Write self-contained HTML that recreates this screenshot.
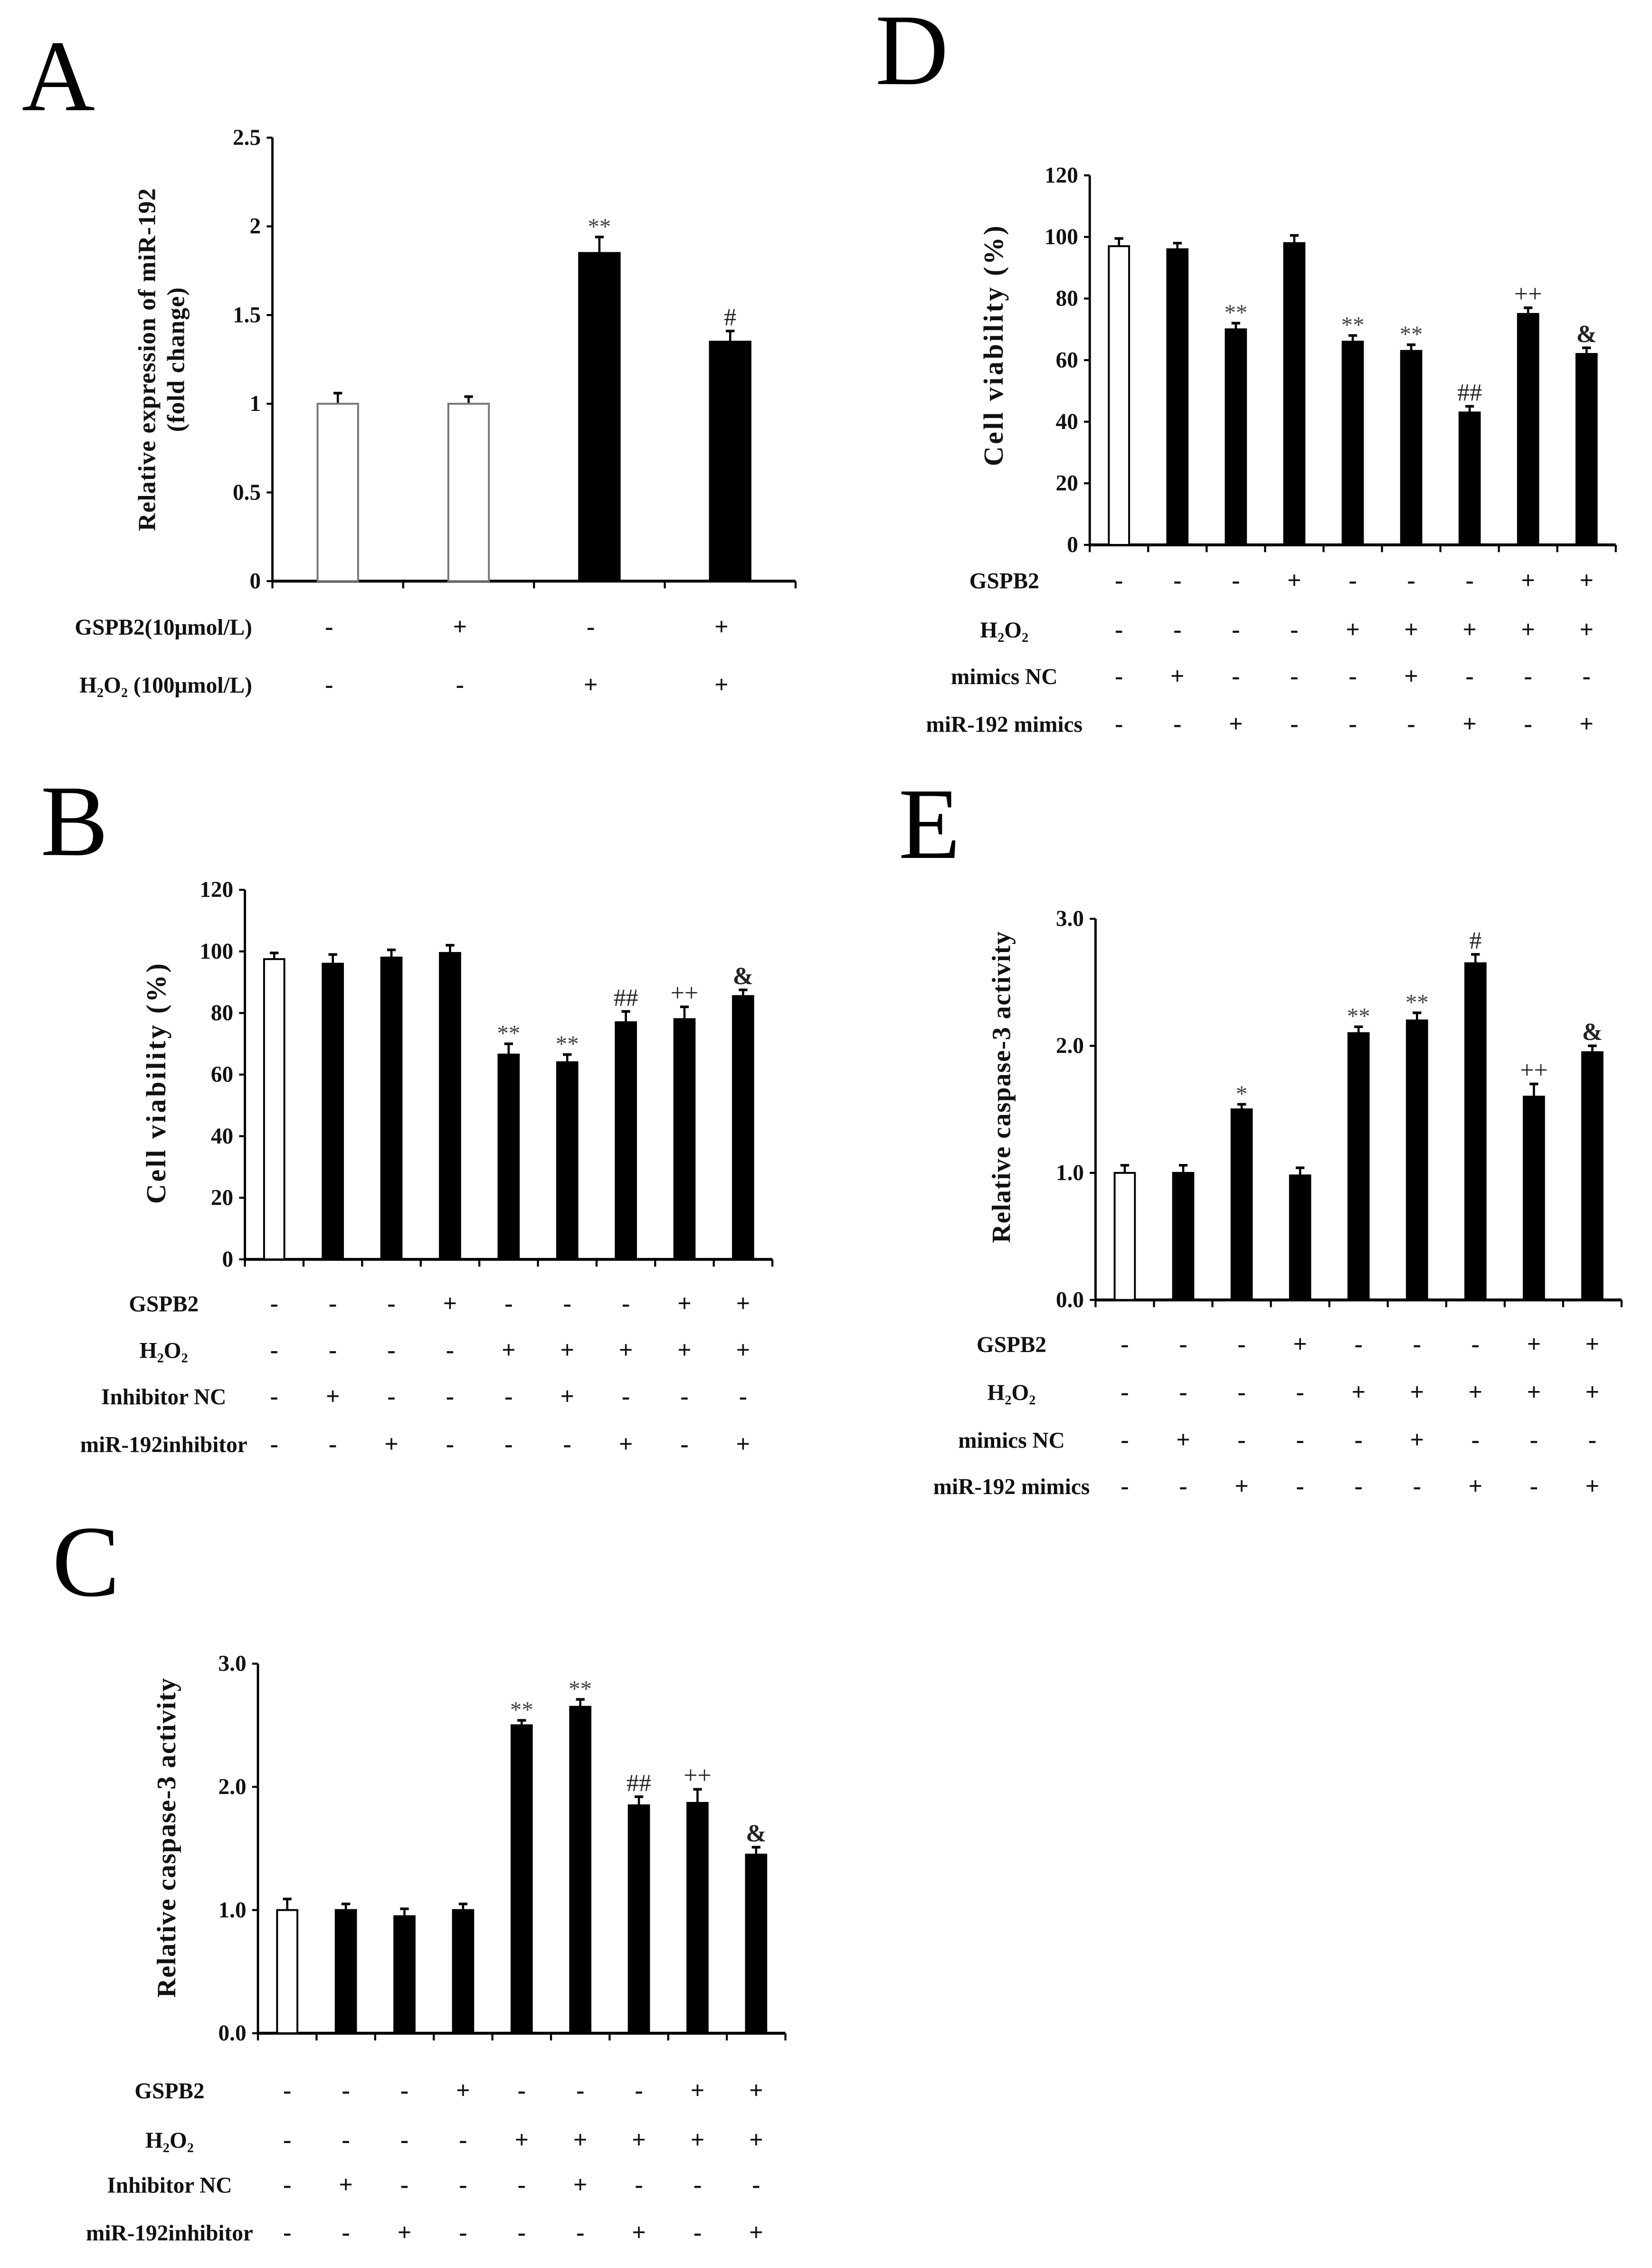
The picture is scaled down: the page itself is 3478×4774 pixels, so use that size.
<!DOCTYPE html>
<html><head><meta charset="utf-8">
<style>
html,body{margin:0;padding:0;background:#fff;}
svg{display:block;}
text{font-family:"Liberation Serif",serif;}
</style></head>
<body>
<svg id="fig" width="3478" height="4774" viewBox="0 0 1140 1565" preserveAspectRatio="none" xmlns="http://www.w3.org/2000/svg">
<rect x="0" y="0" width="1140" height="1565" fill="#fff"/>
</svg>
<script>
// ---- Panel A data ----
const aCategories = ["ctrl","GSPB2","H2O2","GSPB2+H2O2"];
const aValues = [1.0, 1.0, 1.85, 1.35];
const aErrors = [0.06, 0.04, 0.09, 0.06];
const aMarks = ["", "", "**", "#"];
const aTicks = ["0","0.5","1","1.5","2","2.5"];
const aTickVals = [0,0.5,1,1.5,2,2.5];
const aRowLabels = ["GSPB2(10μmol/L)","H₂O₂ (100μmol/L)"];
const aRows = [["-","+","-","+"],["-","-","+","+"]];

// ---- Panel B data ----
const bValues = [97.5, 96, 98, 99.5, 66.5, 64, 77, 78, 85.5];
const bErrors = [2, 3, 2.5, 2.5, 3.5, 2.5, 3.5, 4, 2];
const bMarks = ["","","","","**","**","##","++","&"];
const bTicks = ["0","20","40","60","80","100","120"];
const bTickVals = [0,20,40,60,80,100,120];
const bRowLabels = ["GSPB2","H₂O₂","Inhibitor NC","miR-192inhibitor"];
const bRows = [["-","-","-","+","-","-","-","+","+"],["-","-","-","-","+","+","+","+","+"],["-","+","-","-","-","+","-","-","-"],["-","-","+","-","-","-","+","-","+"]];

// ---- Panel C data ----
const cValues = [1.0, 1.0, 0.95, 1.0, 2.5, 2.65, 1.85, 1.87, 1.45];
const cErrors = [0.09, 0.05, 0.06, 0.05, 0.04, 0.06, 0.07, 0.11, 0.06];
const cMarks = ["","","","","**","**","##","++","&"];
const cTicks = ["0.0","1.0","2.0","3.0"];
const cTickVals = [0,1,2,3];
const cRowLabels = ["GSPB2","H₂O₂","Inhibitor NC","miR-192inhibitor"];
const cRows = bRows;

// ---- Panel D data ----
const dValues = [97, 96, 70, 98, 66, 63, 43, 75, 62];
const dErrors = [2.5, 2, 2, 2.5, 2, 2, 2, 2, 2];
const dMarks = ["","","**","","**","**","##","++","&"];
const dTicks = ["0","20","40","60","80","100","120"];
const dTickVals = [0,20,40,60,80,100,120];
const dRowLabels = ["GSPB2","H₂O₂","mimics NC","miR-192 mimics"];
const dRows = [["-","-","-","+","-","-","-","+","+"],["-","-","-","-","+","+","+","+","+"],["-","+","-","-","-","+","-","-","-"],["-","-","+","-","-","-","+","-","+"]];

// ---- Panel E data ----
const eValues = [1.0, 1.0, 1.5, 0.98, 2.1, 2.2, 2.65, 1.6, 1.95];
const eErrors = [0.06, 0.06, 0.04, 0.06, 0.05, 0.06, 0.07, 0.1, 0.05];
const eMarks = ["","","*","","**","**","#","++","&"];
const eTicks = ["0.0","1.0","2.0","3.0"];
const eTickVals = [0,1,2,3];
const eRowLabels = ["GSPB2","H₂O₂","mimics NC","miR-192 mimics"];
const eRows = dRows;

const NS = "http://www.w3.org/2000/svg";
const svg = document.getElementById('fig');
function mk(tag, attrs, parent){
  const e = document.createElementNS(NS, tag);
  for (const k in attrs) e.setAttribute(k, attrs[k]);
  (parent||svg).appendChild(e);
  return e;
}

function drawPanel(p){
  const g = mk('g', {});
  
  
  const L = mk('text', {x:p.lx, y:p.ly, 'font-size':70, fill:'#000'}, g);
  L.textContent = p.id.toUpperCase();
  
  
  const n = p.values.length;
  const step = (p.x1 - p.x0) / n;
  const max = p.tickVals[p.tickVals.length-1];
  const ys = v => p.y0 - (v / max) * (p.y0 - p.yTop);
  const xs = i => p.x0 + step * (i + 0.5) + (p.shift||0);
  const ya = mk('line', {x1:p.x0, y1:p.yTop, x2:p.x0, y2:p.y0, stroke:'#000', 'stroke-width':1.6}, g);
  
  
  const xa = mk('line', {x1:p.x0, y1:p.y0, x2:p.x1, y2:p.y0, stroke:'#000', 'stroke-width':2}, g);
  
  
  for (let i=0;i<=n;i++){
    const tx = p.x0 + step*i;
    const t = mk('line', {x1:tx, y1:p.y0, x2:tx, y2:p.y0+5, stroke:'#000', 'stroke-width':1.4}, g);
    
    
  }
  p.tickVals.forEach((v,i)=>{
    const y = ys(v);
    const t = mk('line', {x1:p.x0-4, y1:y, x2:p.x0, y2:y, stroke:'#000', 'stroke-width':1.4}, g);
    
    
    const tl = mk('text', {x:p.x0-8, y:y+5, 'font-size':15.5, 'font-weight':'bold', 'text-anchor':'end', fill:'#111'}, g);
    tl.textContent = p.ticks[i];
    
    
  });
  p.ytitle.forEach((line, k)=>{
    const tx = p.ytx + k*p.ytGap;
    const t = mk('text', {x:tx, y:p.yty, 'font-size':p.ytSize, 'font-weight':'bold', 'text-anchor':'middle', 'letter-spacing':p.ytLs||0, fill:'#111', transform:`rotate(-90 ${tx} ${p.yty})`}, g);
    t.textContent = line;
    
    
  });
  p.values.forEach((v,i)=>{
    const cx = xs(i), w = p.bw;
    const top = ys(v);
    const et = ys(v + p.errors[i]);
    const eb = mk('line', {x1:cx, y1:top, x2:cx, y2:et, stroke:'#000', 'stroke-width':1.5}, g);
    
    
    const ec = mk('line', {x1:cx-3, y1:et, x2:cx+3, y2:et, stroke:'#000', 'stroke-width':1.8}, g);
    
    
    const white = p.white.includes(i);
    const r = mk('rect', {x:cx-w/2, y:top, width:w, height:p.y0-top, fill: white?'#fff':'#000', stroke: white?(p.id==='a'?'#777':'#000'):'#000', 'stroke-width':1.3}, g);
    
    
    if (p.marks[i]){
      const m = p.marks[i];
      const isStar = m.indexOf('*')>=0;
      const mt = mk('text', {x:cx, y:et - (isStar?2:4), 'font-size':isStar?16:17, 'text-anchor':'middle', fill: isStar?'#444':'#222', 'font-weight': m==='&'?'bold':'normal'}, g);
      mt.textContent = m;
      
      
    }
  });
  p.rowLabels.forEach((lab, r)=>{
    const y = p.rowY[r];
    const t = mk('text', {x:p.rlx, y:y+5, 'font-size':15.5, 'font-weight':'bold', 'text-anchor':p.rlAnchor, fill:'#111'}, g);
    t.textContent = lab;
    
    
    p.rows[r].forEach((s,i)=>{
      const st = mk('text', {x:xs(i) + (p.signShift||0), y:y+5, 'font-size':17, 'font-weight':'bold', 'text-anchor':'middle', fill:'#111'}, g);
      st.textContent = s;
      
      
    });
  });
}

drawPanel({id:'a', values:aValues, errors:aErrors, marks:aMarks, ticks:aTicks, tickVals:aTickVals, rowLabels:aRowLabels, rows:aRows,
  lx:15, ly:76, x0:188, x1:549, yTop:95, y0:401, bw:28, white:[0,1], shift:0, signShift:-6,
  ytitle:["Relative expression of miR-192","(fold change)"], ytx:107, ytGap:20, yty:248, ytSize:17, ytLs:0.4,
  rowY:[433,473], rlx:174, rlAnchor:'end'});
drawPanel({id:'b', values:bValues, errors:bErrors, marks:bMarks, ticks:bTicks, tickVals:bTickVals, rowLabels:bRowLabels, rows:bRows,
  lx:28, ly:590, x0:169, x1:533, yTop:614, y0:869, bw:14, white:[0], shift:0,
  ytitle:["Cell viability (%)"], ytx:114, ytGap:0, yty:747, ytSize:19, ytLs:1.5,
  rowY:[900,932,964,997], rlx:113, rlAnchor:'middle'});
drawPanel({id:'c', values:cValues, errors:cErrors, marks:cMarks, ticks:cTicks, tickVals:cTickVals, rowLabels:cRowLabels, rows:cRows,
  lx:36, ly:1101, x0:178, x1:542, yTop:1148, y0:1403, bw:14, white:[0], shift:0,
  ytitle:["Relative caspase-3 activity"], ytx:121, ytGap:0, yty:1268, ytSize:18.5, ytLs:0.5,
  rowY:[1443,1477,1508,1541], rlx:117, rlAnchor:'middle'});
drawPanel({id:'d', values:dValues, errors:dErrors, marks:dMarks, ticks:dTicks, tickVals:dTickVals, rowLabels:dRowLabels, rows:dRows,
  lx:604, ly:58, x0:752, x1:1115, yTop:121, y0:376, bw:14, white:[0], shift:0,
  ytitle:["Cell viability  (%)"], ytx:692, ytGap:0, yty:238, ytSize:19, ytLs:1.5,
  rowY:[401,435,467,500], rlx:693, rlAnchor:'middle'});
drawPanel({id:'e', values:eValues, errors:eErrors, marks:eMarks, ticks:eTicks, tickVals:eTickVals, rowLabels:eRowLabels, rows:eRows,
  lx:620, ly:592, x0:756, x1:1119, yTop:634, y0:897, bw:14, white:[0], shift:0,
  ytitle:["Relative caspase-3 activity"], ytx:697, ytGap:0, yty:750, ytSize:18, ytLs:0.5,
  rowY:[928,961,994,1026], rlx:698, rlAnchor:'middle'});
</script>
</body></html>
